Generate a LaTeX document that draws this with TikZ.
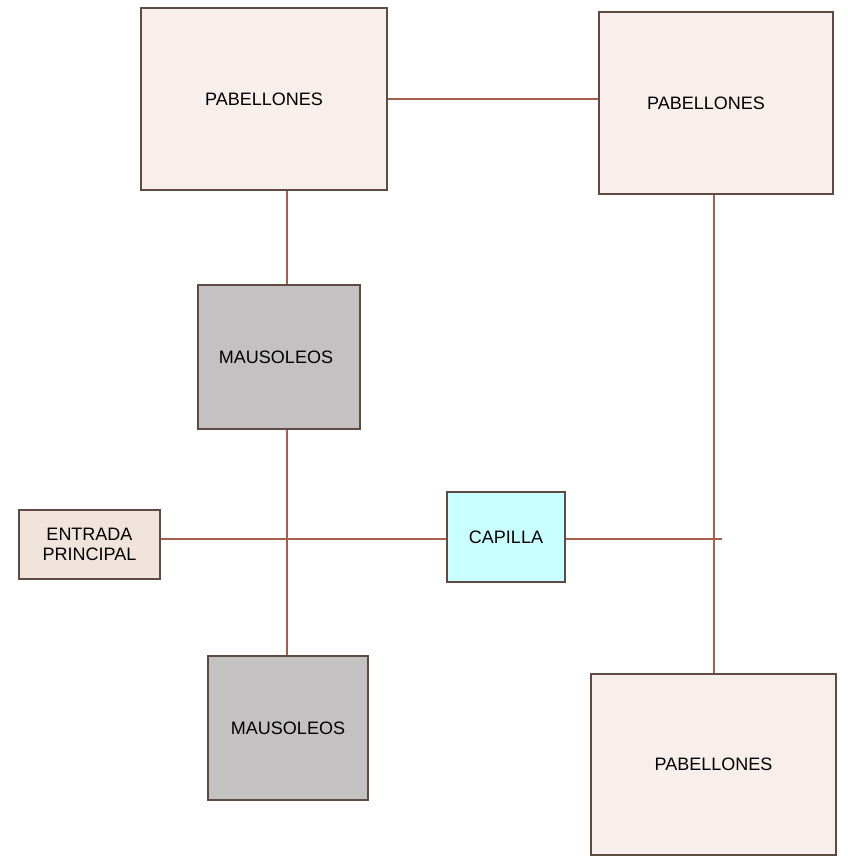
\documentclass[tikz,border=0pt]{standalone}
\usepackage{fontspec}
\setmainfont{Liberation Sans}
\definecolor{linkc}{RGB}{165,95,75}
\definecolor{edgec}{RGB}{95,75,65}
\definecolor{pabfill}{RGB}{248,238,236}
\definecolor{maufill}{RGB}{196,193,195}
\definecolor{entfill}{RGB}{240,228,220}
\definecolor{capfill}{RGB}{200,255,255}
\tikzset{
  box/.style={draw=edgec, line width=1.2pt, inner sep=0pt, font=\fontsize{18}{20}\selectfont, align=center},
  pab/.style={box, fill=pabfill},
  mau/.style={box, fill=maufill},
  link/.style={draw=linkc, line width=1.2pt}
}
\begin{document}
\begin{tikzpicture}[x=1pt,y=-1pt]
\useasboundingbox (0,0) rectangle (848,857);
\node[pab, minimum width=246pt, minimum height=182pt] (p1) at (264,99) {PABELLONES};
\node[pab, minimum width=234pt, minimum height=182pt] (p2) at (716,103) {\hspace*{-20pt}PABELLONES};
\node[pab, minimum width=245pt, minimum height=181pt] (p3) at (713.5,764.5) {PABELLONES};
\node[mau, minimum width=162pt, minimum height=144pt] (m1) at (279,357) {\hspace*{-6pt}MAUSOLEOS};
\node[mau, minimum width=160pt, minimum height=144pt] (m2) at (288,728) {MAUSOLEOS};
\node[box, fill=entfill, minimum width=141pt, minimum height=69pt] (ent) at (89.5,544.5) {ENTRADA\\PRINCIPAL};
\node[box, fill=capfill, minimum width=118pt, minimum height=90pt] (cap) at (506,537) {CAPILLA};
\coordinate (cend) at (722,539);
\draw[link] (p1.east |- 0,99) -- (p2.west |- 0,99);
\draw[link] (p1.south -| 287,0) -- (m1.north -| 287,0);
\draw[link] (m1.south -| 287,0) -- (m2.north -| 287,0);
\draw[link] (ent.east |- 0,539) -- (cap.west |- 0,539);
\draw[link] (cap.east |- 0,539) -- (cend);
\draw[link] (p2.south -| 714,0) -- (p3.north -| 714,0);
\end{tikzpicture}
\end{document}
